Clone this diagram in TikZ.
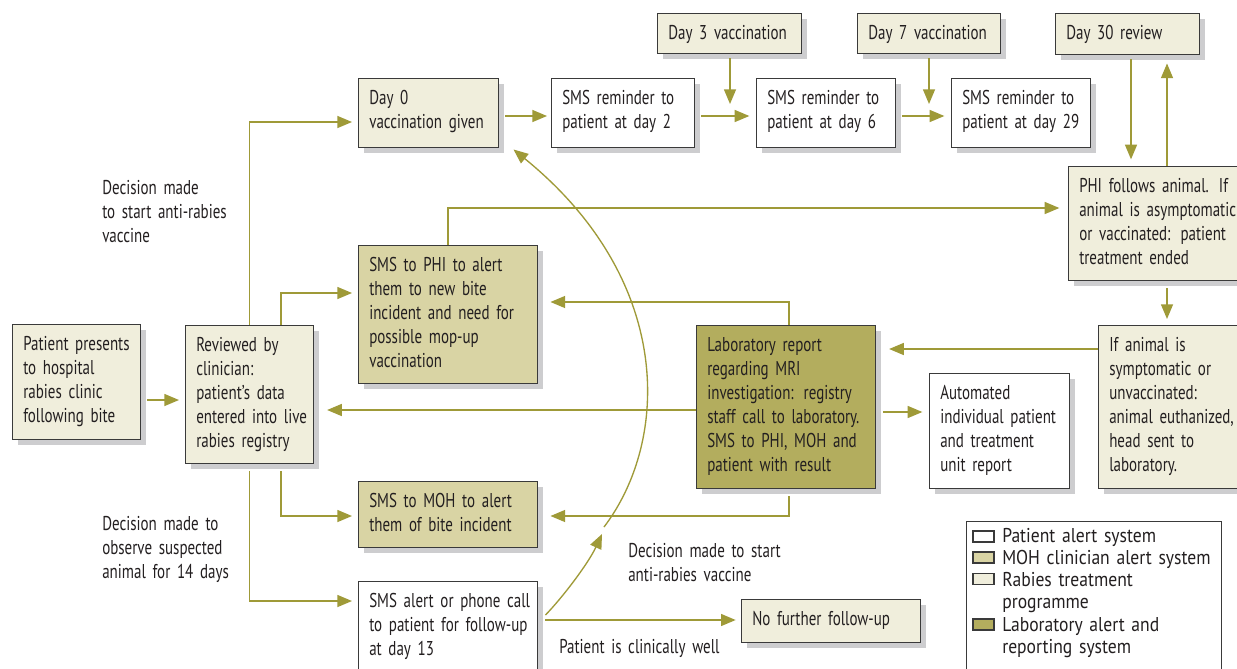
\documentclass[tikz,border=0pt]{standalone}
\usepackage{fontspec}
\setmainfont{PT Sans}[FakeStretch=0.75]
\newfontfamily\legfont{PT Sans}[FakeStretch=0.88]
\usetikzlibrary{arrows.meta,calc}
\definecolor{arrc}{HTML}{9F9A38}
\definecolor{cream}{HTML}{F0EEDC}
\definecolor{tanc}{HTML}{D9D4A4}
\definecolor{olivec}{HTML}{B3AD5E}
\definecolor{shadowc}{HTML}{CDCDCF}
\definecolor{edgec}{HTML}{3A3A3A}
\definecolor{textc}{HTML}{231F20}
\tikzset{
  bx/.style={draw=edgec, line width=1.1pt, anchor=north west, inner sep=0pt},
  txt/.style={anchor=base west, align=left, inner sep=0pt, text width=160pt, text=textc,
    font=\fontsize{15}{18}\selectfont},
  arr/.style={draw=arrc, line width=1pt, -{Triangle[length=11pt,width=9pt]}},
  sw/.style={draw=edgec, line width=1.1pt, minimum width=15.75pt, minimum height=8.25pt, inner sep=0pt},
}
\newcommand\mkbox[7]{%
  \fill[shadowc] (#2+6,#3+6) rectangle (#4+6,#5+6);
  \node[bx, fill=#6, minimum width={(#4-#2)*0.75pt}, minimum height={(#5-#3)*0.75pt}] (#1) at (#2,#3) {};
  \node[txt] (#1-t) at (#2+11,#3+26) {#7};
}
\begin{document}
\begin{tikzpicture}[x=0.75pt,y=-0.75pt]
\useasboundingbox (0,0) rectangle (1237,668);
\clip (0,0) rectangle (1237,668);
\fill[white] (0,0) rectangle (1237,668);

% boxes
\mkbox{pat}{12}{324}{140}{439}{cream}{Patient presents\\to hospital\\rabies clinic\\following bite}
\mkbox{rev}{185}{325}{313}{463}{cream}{Reviewed by\\clinician:\\patient’s data\\entered into live\\rabies registry}
\mkbox{d0}{358}{78}{498}{147}{cream}{Day 0\\vaccination given}
\mkbox{s2}{551}{78}{694}{147}{white}{SMS reminder to\\patient at day 2}
\mkbox{s6}{756}{78}{895}{147}{white}{SMS reminder to\\patient at day 6}
\mkbox{s29}{951}{78}{1090}{147}{white}{SMS reminder to\\patient at day 29}
\mkbox{d3}{657}{13}{801}{53}{cream}{Day 3 vaccination}
\mkbox{d7}{857}{13}{1000}{53}{cream}{Day 7 vaccination}
\mkbox{d30}{1055}{13}{1199}{54}{cream}{Day 30 review}
\mkbox{phi}{1068}{166}{1240}{280}{cream}{PHI follows animal. If\\animal is asymptomatic\\or vaccinated: patient\\treatment ended}
\mkbox{sym}{1098}{325}{1240}{488}{cream}{If animal is\\symptomatic or\\unvaccinated:\\animal euthanized,\\head sent to\\laboratory.}
\mkbox{sphi}{358}{245}{537}{383}{tanc}{SMS to PHI to alert\\them to new bite\\incident and need for\\possible mop-up\\vaccination}
\mkbox{smoh}{358}{481}{537}{547}{tanc}{SMS to MOH to alert\\them of bite incident}
\mkbox{lab}{696}{325}{875}{488}{olivec}{Laboratory report\\regarding MRI\\investigation: registry\\staff call to laboratory.\\SMS to PHI, MOH and\\patient with result}
\mkbox{auto}{929}{373}{1069}{488}{white}{Automated\\individual patient\\and treatment\\unit report}
\mkbox{alert}{358}{581}{537}{676}{white}{SMS alert or phone call\\to patient for follow-up\\at day 13}
\mkbox{nof}{741}{599}{920}{642}{cream}{No further follow-up}

% free labels
\node[txt] (l1) at (102,194) {Decision made\\to start anti-rabies\\vaccine};
\node[txt] (l2) at (102,530) {Decision made to\\observe suspected\\animal for 14 days};
\node[txt] (l3) at (628,557) {Decision made to start\\anti-rabies vaccine};
\node[txt] (l4) at (559,653) {Patient is clinically well};

% connectors
\draw[arr, shorten <=4.5pt, shorten >=4.5pt] (pat.east |- 0,400) -- (rev.west |- 0,400);
\draw[arr, shorten >=4.5pt] (rev.north) |- (d0.west |- 0,122);
\draw[arr, shorten >=4.5pt] (281,0 |- rev.north) |- (sphi.west |- 0,293);
\draw[arr, shorten <=5pt, shorten >=4.5pt] (281,0 |- rev.south) |- (smoh.west |- 0,516);
\draw[arr, shorten <=5pt, shorten >=4.5pt] (rev.south) |- (alert.west |- 0,601);
\draw[arr, shorten >=9.5pt] (lab.west |- 0,410) -- (rev.east |- 0,410);
\draw[arr, shorten >=9pt] (789,0 |- lab.north) |- (sphi.east |- 0,302);
\draw[arr, shorten <=5pt, shorten >=9pt] (789,0 |- lab.south) |- (smoh.east |- 0,516);
\draw[arr, shorten <=5pt, shorten >=5pt] (lab.east |- 0,412) -- (auto.west |- 0,412);
\draw[arr, shorten >=9.5pt] (sym.west |- 0,349) -- (lab.east |- 0,349);
\draw[arr, shorten >=6.5pt] (448,0 |- sphi.north) |- (phi.west |- 0,208);
\draw[arr, shorten <=4.5pt, shorten >=3pt] (d0.east |- 0,116) -- (s2.west |- 0,116);
\draw[arr, shorten <=4.5pt, shorten >=5pt] (s2.east |- 0,116) -- (s6.west |- 0,116);
\draw[arr, shorten <=4.5pt, shorten >=5pt] (s6.east |- 0,116) -- (s29.west |- 0,116);
\draw[arr, shorten <=3pt, shorten >=9pt] (730,0 |- d3.south) -- (730,116);
\draw[arr, shorten <=3pt, shorten >=9pt] (929,0 |- d7.south) -- (929,116);
\draw[arr, shorten <=3pt, shorten >=5pt] (1131,0 |- d30.south) -- (1131,0 |- phi.north);
\draw[arr, shorten >=6pt] (1167,0 |- phi.north) -- (1167,0 |- d30.south);
\draw[arr, shorten <=5pt, shorten >=4.5pt] (1167,0 |- phi.south) -- (1167,0 |- sym.north);
\draw[arr, shorten <=5pt, shorten >=4pt] (alert.east |- 0,620) -- (nof.west |- 0,620);
\coordinate (cm) at (602,534);
\draw[arr] ($(alert.east |- 0,615)+(7,0)$) .. controls (562,598) and (588,564) .. (cm);
\draw[arr] ($(cm)+(2,-7)$) .. controls (670,440) and (674,280) .. ($(d0.south east)+(14,1)$);

% legend
\node[bx, draw=edgec, line width=1pt, fill=white, minimum width={255*0.75pt}, minimum height={160*0.75pt}] (leg) at (966,521) {};
\node[sw, fill=white] (sw1) at (983.5,536.5) {};
\node[sw, fill=tanc] (sw2) at (983.5,557.5) {};
\node[sw, fill=cream] (sw3) at (983.5,579) {};
\node[sw, fill=olivec] (sw4) at (983.5,624.5) {};
\node[anchor=base west, align=left, inner sep=0pt, text width=180pt, text=textc,
  font=\legfont\fontsize{15}{16.7}\selectfont] (legt) at (1002,542)
  {Patient alert system\\MOH clinician alert system\\Rabies treatment\\programme\\Laboratory alert and\\reporting system};
\end{tikzpicture}
\end{document}
